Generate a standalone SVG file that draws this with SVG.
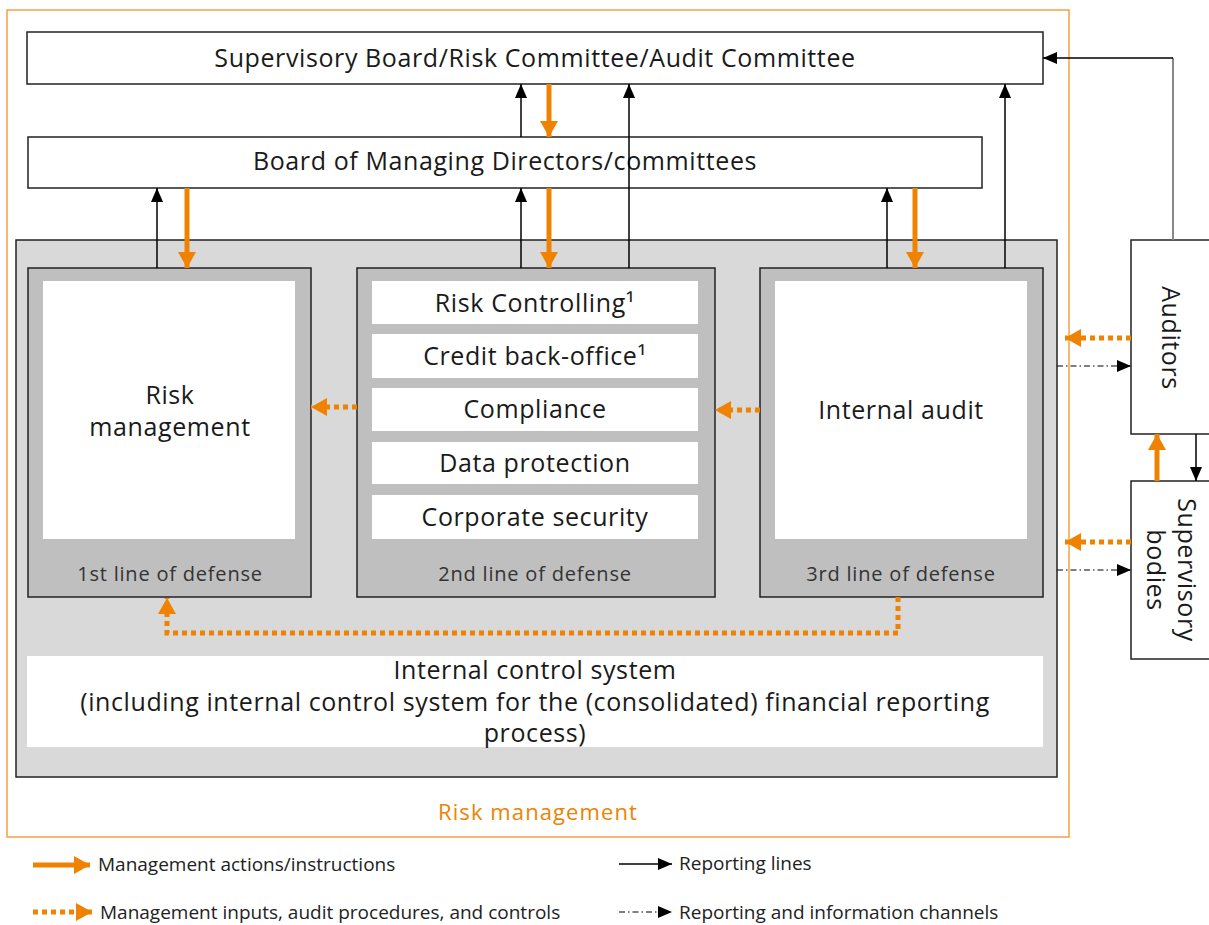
<svg xmlns="http://www.w3.org/2000/svg" width="1209" height="925" viewBox="0 0 1209 925">
<style>
text{font-family:"Open Sans","Noto Sans","DejaVu Sans",sans-serif;fill:#1a1a1a}
.t22{font-size:25px;text-anchor:middle;letter-spacing:0.6px}
.t20{font-size:20px;text-anchor:middle;fill:#333;letter-spacing:0.8px}
.leg{font-size:19px;fill:#222}
.box{fill:#fff;stroke:#222;stroke-width:1.5}
.col{fill:#bfbfbf;stroke:#222;stroke-width:1.5}
.inner{fill:#fff}
.rep{stroke:#000;stroke-width:1.5;fill:none}
.act{stroke:#ef8200;stroke-width:5;fill:none}
.inp{stroke:#ef8200;stroke-width:5;fill:none;stroke-dasharray:5 4}
.chan{stroke:#000;stroke-width:1.2;fill:none;stroke-dasharray:6 3 1.5 3}
</style>
<defs>
<marker id="mb" markerUnits="userSpaceOnUse" markerWidth="14" markerHeight="12" refX="14" refY="6" orient="auto" viewBox="0 0 14 12"><path d="M0,0 L14,6 L0,12 z" fill="#000"/></marker>
<marker id="mo" markerUnits="userSpaceOnUse" markerWidth="16" markerHeight="18" refX="16" refY="9" orient="auto" viewBox="0 0 16 18"><path d="M0,0 L16,9 L0,18 z" fill="#ef8200"/></marker>
</defs>

<g id="risk-management-frame">
<rect x="7" y="10" width="1062" height="827" fill="#fff" stroke="#f3a045" stroke-width="1.5"/>
<text x="538" y="820" style="font-size:22px;text-anchor:middle;fill:#ef8200;letter-spacing:1.1px">Risk management</text>
</g>

<g id="supervisory-board">
<rect class="box" x="27" y="32" width="1016" height="52"/>
<text class="t22" x="535" y="67">Supervisory Board/Risk Committee/Audit Committee</text>
</g>

<g id="board-md">
<rect class="box" x="28" y="137" width="954" height="51"/>
<text class="t22" x="505" y="170">Board of Managing Directors/committees</text>
</g>

<g id="ics-area">
<rect x="16" y="240" width="1041" height="537" fill="#d9d9d9" stroke="#222" stroke-width="1.5"/>
</g>

<g id="line1">
<rect class="col" x="28" y="268" width="283" height="329"/>
<rect class="inner" x="43" y="281" width="252" height="258"/>
<text class="t22" x="170" y="404">Risk</text>
<text class="t22" x="170" y="436">management</text>
<text class="t20" x="170" y="581">1st line of defense</text>
</g>

<g id="line2">
<rect class="col" x="357" y="268" width="358" height="329"/>
<rect class="inner" x="372" y="281" width="326" height="43"/>
<rect class="inner" x="372" y="334" width="326" height="44"/>
<rect class="inner" x="372" y="388" width="326" height="43"/>
<rect class="inner" x="372" y="442" width="326" height="42"/>
<rect class="inner" x="372" y="495" width="326" height="44"/>
<text class="t22" x="535" y="312">Risk Controlling¹</text>
<text class="t22" x="535" y="365">Credit back-office¹</text>
<text class="t22" x="535" y="418">Compliance</text>
<text class="t22" x="535" y="472">Data protection</text>
<text class="t22" x="535" y="526">Corporate security</text>
<text class="t20" x="535" y="581">2nd line of defense</text>
</g>

<g id="line3">
<rect class="col" x="760" y="268" width="283" height="329"/>
<rect class="inner" x="775" y="281" width="252" height="258"/>
<text class="t22" x="901" y="419">Internal audit</text>
<text class="t20" x="901" y="581">3rd line of defense</text>
</g>

<g id="internal-control-system">
<rect class="inner" x="27" y="656" width="1016" height="91"/>
<text class="t22" x="535" y="679">Internal control system</text>
<text class="t22" x="535" y="711">(including internal control system for the (consolidated) financial reporting</text>
<text class="t22" x="535" y="742">process)</text>
</g>

<g id="auditors">
<rect class="box" x="1131" y="240" width="90" height="194"/>
<text class="t22" transform="translate(1162,338) rotate(90)">Auditors</text>
</g>

<g id="supervisory-bodies">
<rect class="box" x="1131" y="481" width="90" height="178"/>
<text class="t22" transform="translate(1178,570) rotate(90)">Supervisory</text>
<text class="t22" transform="translate(1147,570) rotate(90)">bodies</text>
</g>

<g id="connectors">
<line class="rep" x1="157" y1="268" x2="157" y2="188" marker-end="url(#mb)"/>
<line class="rep" x1="521" y1="268" x2="521" y2="188" marker-end="url(#mb)"/>
<line class="rep" x1="887" y1="268" x2="887" y2="188" marker-end="url(#mb)"/>
<line class="rep" x1="521" y1="137" x2="521" y2="84" marker-end="url(#mb)"/>
<line class="rep" x1="629" y1="268" x2="629" y2="84" marker-end="url(#mb)"/>
<line class="rep" x1="1005" y1="268" x2="1005" y2="84" marker-end="url(#mb)"/>
<line x1="1173" y1="240" x2="1173" y2="58" stroke="#888" stroke-width="2"/>
<path class="rep" d="M1173,58 L1043,58" marker-end="url(#mb)"/>
<line class="rep" x1="1196" y1="434" x2="1196" y2="481" marker-end="url(#mb)"/>
<line class="act" x1="187" y1="188" x2="187" y2="268" marker-end="url(#mo)"/>
<line class="act" x1="549" y1="188" x2="549" y2="268" marker-end="url(#mo)"/>
<line class="act" x1="915" y1="188" x2="915" y2="268" marker-end="url(#mo)"/>
<line class="act" x1="549" y1="84" x2="549" y2="137" marker-end="url(#mo)"/>
<line class="act" x1="1157" y1="481" x2="1157" y2="434" marker-end="url(#mo)"/>
<line class="inp" x1="357" y1="407" x2="311" y2="407" marker-end="url(#mo)"/>
<line class="inp" x1="760" y1="410" x2="715" y2="410" marker-end="url(#mo)"/>
<line class="inp" x1="1131" y1="338" x2="1065" y2="338" marker-end="url(#mo)"/>
<line class="inp" x1="1131" y1="542" x2="1065" y2="542" marker-end="url(#mo)"/>
<path class="inp" d="M898,597 L898,633 L167,633 L167,598" marker-end="url(#mo)"/>
<line class="chan" x1="1057" y1="366" x2="1131" y2="366" marker-end="url(#mb)"/>
<line class="chan" x1="1057" y1="570" x2="1131" y2="570" marker-end="url(#mb)"/>
</g>

<g id="legend">
<line class="act" x1="33" y1="865" x2="90" y2="865" marker-end="url(#mo)"/>
<text class="leg" x="98" y="871">Management actions/instructions</text>
<line class="inp" x1="33" y1="912" x2="92" y2="912" marker-end="url(#mo)"/>
<text class="leg" x="100" y="919">Management inputs, audit procedures, and controls</text>
<line class="rep" x1="619" y1="864" x2="672" y2="864" marker-end="url(#mb)"/>
<text class="leg" x="679" y="870">Reporting lines</text>
<line class="chan" x1="619" y1="912" x2="672" y2="912" marker-end="url(#mb)"/>
<text class="leg" x="679" y="919">Reporting and information channels</text>
</g>
</svg>
